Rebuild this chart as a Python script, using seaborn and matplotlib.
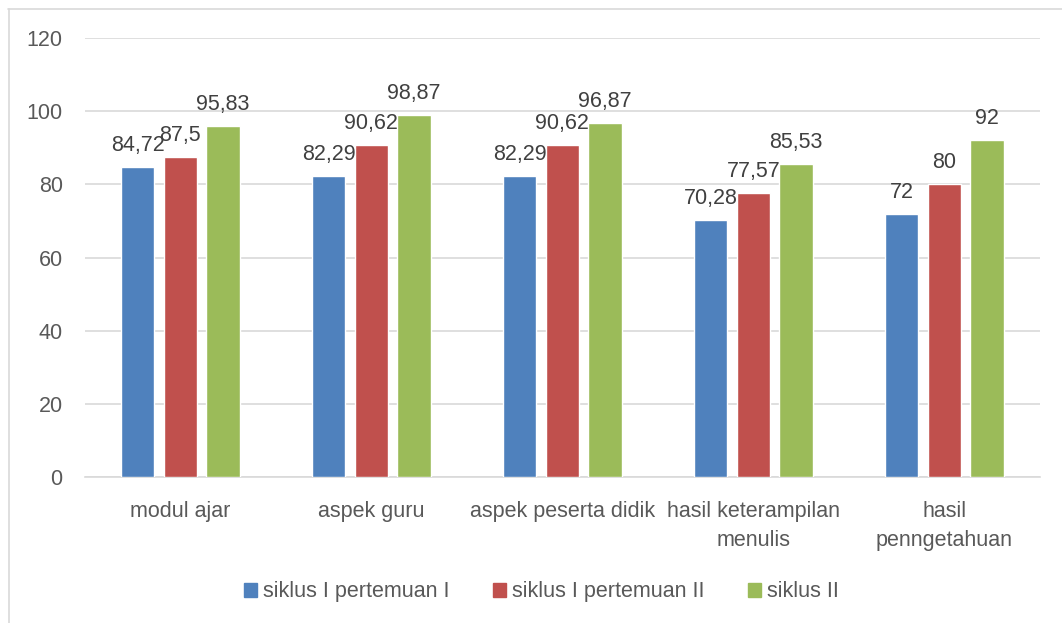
import matplotlib
matplotlib.use("Agg")
import matplotlib.pyplot as plt
from matplotlib.lines import Line2D
import pandas as pd
import seaborn as sns

# chart values
categories = ["modul ajar", "aspek guru", "aspek peserta didik",
              "hasil keterampilan\nmenulis", "hasil\npenngetahuan"]
seriesNames = ["siklus I pertemuan I", "siklus I pertemuan II", "siklus II"]
siklus1p1 = [84.72, 82.29, 82.29, 70.28, 72]
siklus1p2 = [87.5, 90.62, 90.62, 77.57, 80]
siklus2 = [95.83, 98.87, 96.87, 85.53, 92]
yTicks = [0, 20, 40, 60, 80, 100, 120]

rows = []
for name, vals in zip(seriesNames, [siklus1p1, siklus1p2, siklus2]):
    for cat, v in zip(categories, vals):
        rows.append({"Kategori": cat, "Nilai": v, "Seri": name})
df = pd.DataFrame(rows)

sns.set_style("white")
plt.rcParams["font.family"] = ["Liberation Sans", "DejaVu Sans"]
textColor = "#595959"
palette = ["#4F81BD", "#C0504D", "#9BBB59"]

fig = plt.figure(figsize=(10.62, 6.23), dpi=100)
ax = fig.add_axes([0.080, 0.2343, 0.899, 0.7047])

sns.barplot(data=df, x="Kategori", y="Nilai", hue="Seri", order=categories,
            hue_order=seriesNames, palette=palette, width=0.67, gap=0.22,
            saturation=1, errorbar=None, ax=ax, zorder=3)

def fmt(v):
    s = ("%.2f" % v).rstrip("0").rstrip(".")
    return s.replace(".", ",")

for cont in ax.containers:
    for bar in cont:
        h = bar.get_height()
        ax.annotate(fmt(h), (bar.get_x() + bar.get_width() / 2, h),
                    xytext=(0, 8), textcoords="offset points",
                    ha="center", va="bottom", fontsize=15.5, color="#404040")

ax.set_ylim(0, 120)
ax.set_yticks(yTicks)
ax.set_xlim(-0.5, len(categories) - 0.5)
ax.yaxis.grid(True, color="#D9D9D9", linewidth=1.2, zorder=0)
ax.set_axisbelow(True)
for side in ["top", "right", "left"]:
    ax.spines[side].set_visible(False)
ax.spines["bottom"].set_color("#D9D9D9")
ax.spines["bottom"].set_linewidth(1.2)
ax.tick_params(axis="both", colors=textColor, labelsize=15.5, length=0)
ax.tick_params(axis="x", pad=17)
ax.tick_params(axis="y", pad=16)
for lbl in ax.get_xticklabels():
    lbl.set_linespacing(1.5)
ax.set_xlabel("")
ax.set_ylabel("")

ax.legend_.remove()
handles = [plt.Rectangle((0, 0), 1, 1, color=c) for c in palette]
fig.legend(handles, seriesNames, loc="center", bbox_to_anchor=(0.51, 0.05),
           ncol=3, frameon=False, fontsize=15.5, handlelength=0.6, handleheight=0.6,
           handletextpad=0.3, columnspacing=2.0, labelcolor=textColor)

# outer chart border (top and left visible)
fig.add_artist(Line2D([8 / 1062, 1.0], [1 - 8.5 / 623, 1 - 8.5 / 623],
                      color="#D9D9D9", linewidth=1.2, transform=fig.transFigure))
fig.add_artist(Line2D([8.5 / 1062, 8.5 / 1062], [0, 1 - 8.5 / 623],
                      color="#D9D9D9", linewidth=1.2, transform=fig.transFigure))

fig.savefig("out.png", dpi=100)
